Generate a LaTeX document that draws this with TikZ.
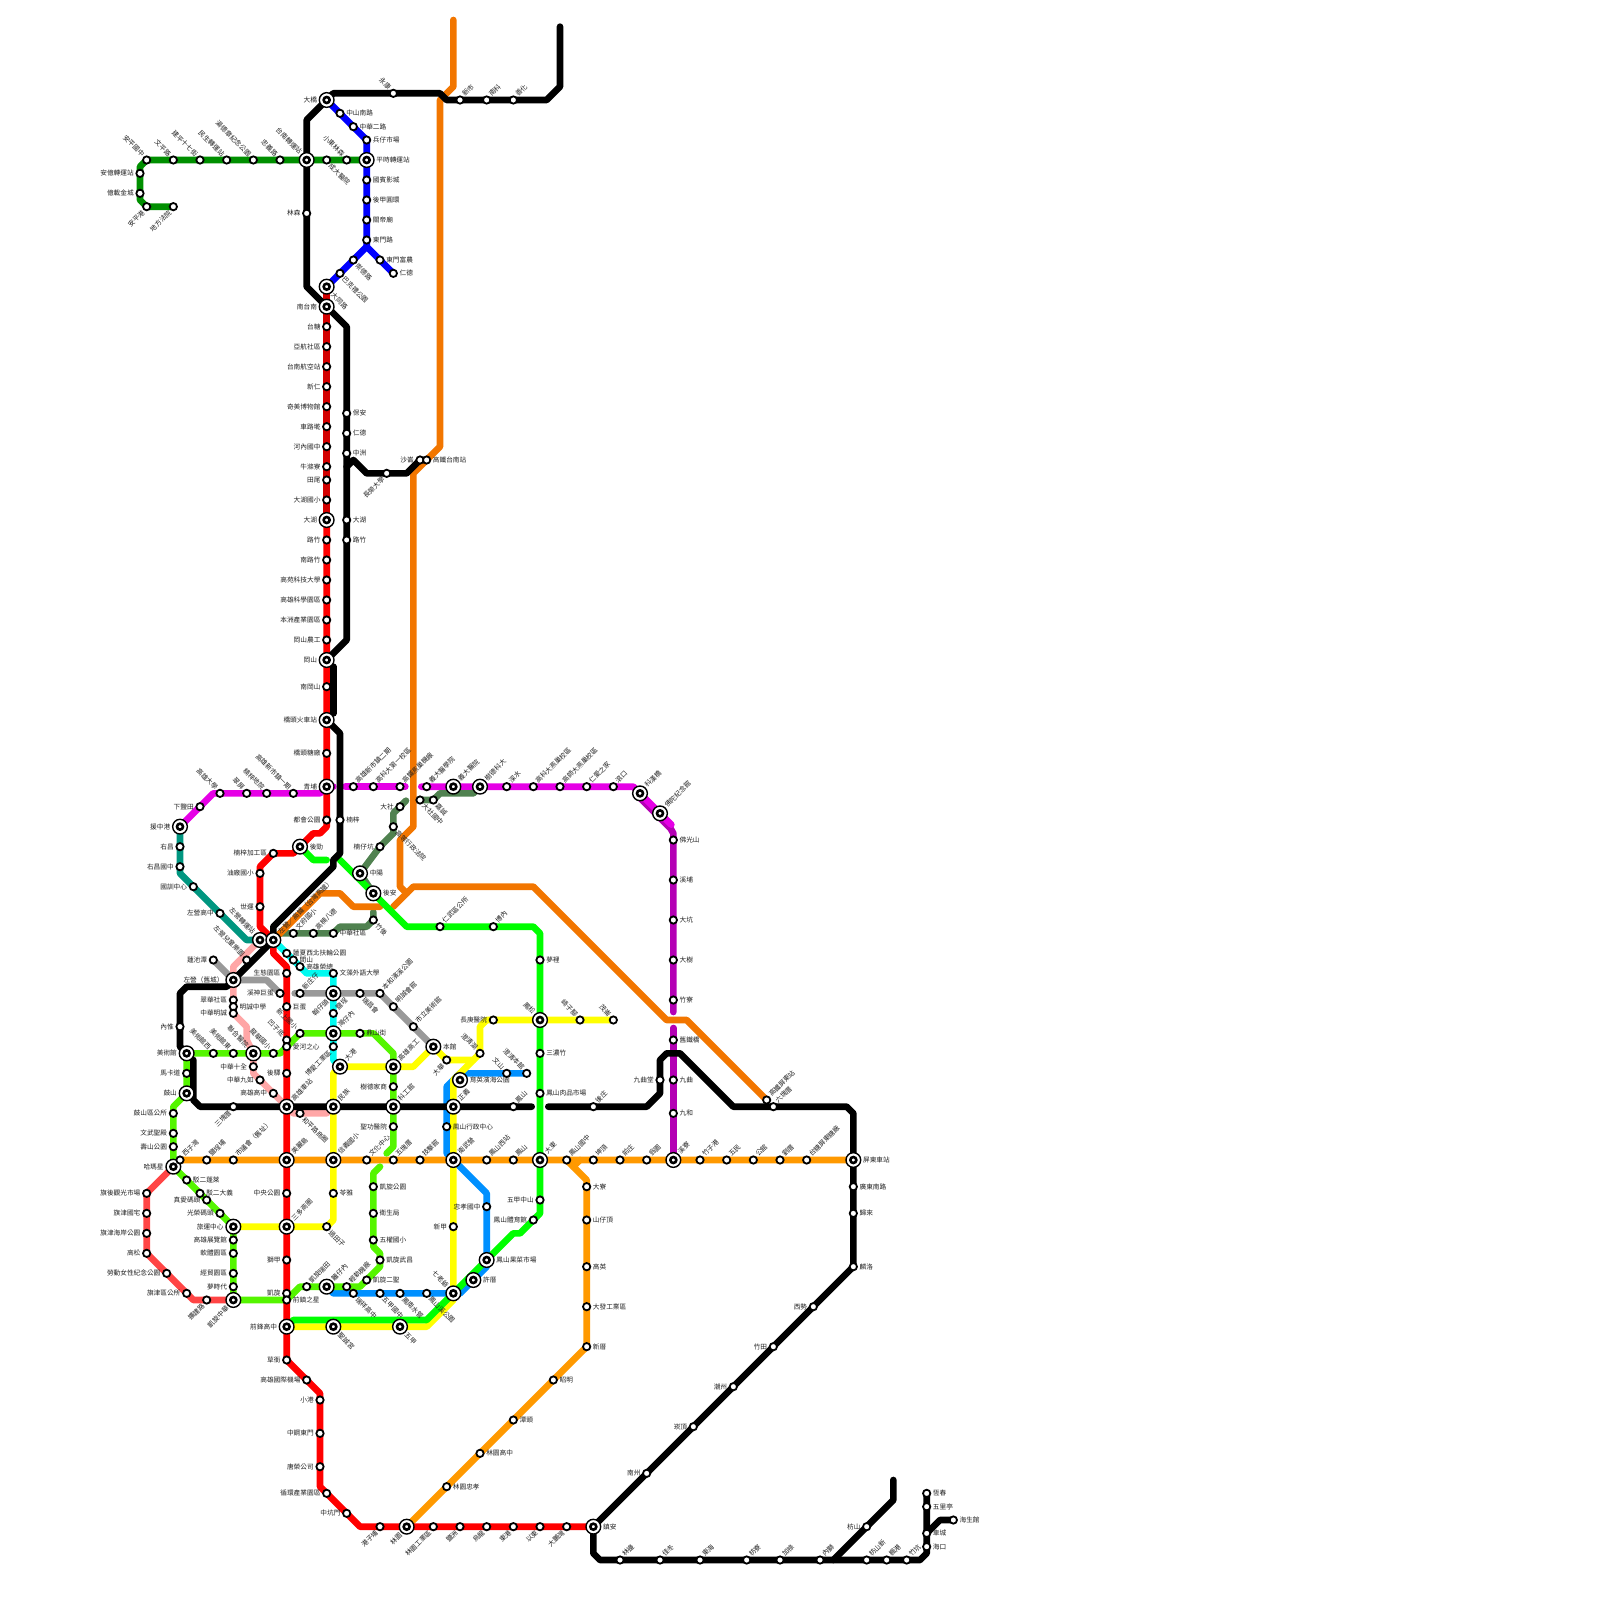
\documentclass[tikz,border=0pt]{standalone}
\usepackage{fontspec}
\setmainfont{Noto Sans CJK TC}
\usetikzlibrary{backgrounds}
\definecolor{cgreen}{HTML}{008F00}
\definecolor{cblue}{HTML}{0000FF}
\definecolor{cdred}{HTML}{D40000}
\definecolor{cred}{HTML}{FF0000}
\definecolor{clred}{HTML}{FF4545}
\definecolor{cpink}{HTML}{FFA6A6}
\definecolor{cmag}{HTML}{E600E6}
\definecolor{cpur}{HTML}{B400B4}
\definecolor{cteal}{HTML}{009680}
\definecolor{cgray}{HTML}{999999}
\definecolor{ccyan}{HTML}{00FAF0}
\definecolor{clime}{HTML}{55F500}
\definecolor{cvivid}{HTML}{00FF00}
\definecolor{cyel}{HTML}{FFFF00}
\definecolor{cazure}{HTML}{0090FF}
\definecolor{cdkgr}{HTML}{508250}
\definecolor{corg}{HTML}{F27600}
\definecolor{camb}{HTML}{FF9900}
\definecolor{clab}{HTML}{202020}
\tikzset{
    lbl/.style={inner sep=0pt,text=clab,font=\fontsize{6.67}{8}\selectfont},
    label distance=1.5pt,
    lR/.style={label={[lbl,anchor=west]0:#1}},
    lL/.style={label={[lbl,anchor=east]180:#1}},
    lUR/.style={label={[lbl,rotate=45,anchor=west]45:#1}},
    lUL/.style={label={[lbl,rotate=-45,anchor=east]135:#1}},
    lDR/.style={label={[lbl,rotate=-45,anchor=west]-45:#1}},
    lDL/.style={label={[lbl,rotate=45,anchor=east]225:#1}},
    stn/.style={circle,draw=black,fill=white,line width=1.8pt,minimum size=7.3pt,inner sep=0pt},
    stnx/.style={circle,draw=black,fill=white,line width=1.4pt,minimum size=14.7pt,inner sep=0pt,
        path picture={\draw[line width=2.6pt] (path picture bounding box.center) circle (3pt);}},
    metro/.style={line width=6.67pt,line cap=round,line join=round},
}
\begin{document}
\begin{tikzpicture}[x=6.6667pt,y=-6.6667pt]
\useasboundingbox (0,0) rectangle (240,240);

% transfer stations
\foreach \nm/\px/\py/\tx/\lb in {
    tnzz/46/24/台南轉運站/lUL, pszz/55/24/平時轉運站/lR, daqiao/49/15/大橋/lL, datong/49/43/大同路/lDR,
    ntn/49/46/南台南/lL, dahu/49/78/大湖/lL, gangshan/49/99/岡山/lL, qtcz/49/108/橋頭火車站/lL,
    qingpu/49/118/青埔/lL, houjin/45/127/後勁/lR, yzg/27/124/援中港/lL, zyzy/39/141/左營轉運站/lUL,
    zygt/41/141/左營／高鐵（台灣高鐵）/lUR, zyjc/35/147/左營（舊城）/lL, zhongyang/54/131/中陽/lR,
    houan/56/134/後安/lR, ydyy/68/118/義大醫院/lUR, sdkd/72/118/樹德科大/lUR, kehan/96/119/科漢橋/lUR,
    focuo/99/122/佛陀紀念館/lUR, meishu/28/158/美術館/lL, gushan/28/164/鼓山/lL, lianhe/38/158/聯合醫院/lUL,
    haor/50/149/翰仔頭/lDL, wanzn/50/155/灣仔內/lUR, dagang/51/160/大港/lUR, gxgg/59/160/高雄高工/lUR,
    benguan/65/157/本館/lR, fengsong/81/153/鳳松/lUL, yuyi/69/162/育英濱海公園/lR, gxcz/43/166/高雄車站/lUR,
    minzu/50/166/民族/lUR, kegong/59/166/科工館/lUR, zhengyi/68/166/正義/lUR, mld/43/174/美麗島/lUR,
    xyxx/50/174/信義國小/lUR, wwy/68/174/衛武營/lUR, dadong/81/174/大東/lUR, xiliao/101/174/溪寮/lUR,
    ptcz/128/174/屏東車站/lR, hms/26/175/哈瑪星/lL, lyzx/35/184/旅運中心/lL, sdsq/43/184/三多商圈/lUR,
    kxzh/35/195/凱旋中華/lDL, lzn/49/193/籬仔內/lUR, qfgz/43/199/前鋒高中/lL, scg/50/199/聖誠宮/lDR,
    wujia/60/199/五甲/lDR, qlaoye/68/194/七老爺/lUL, xucuo/71/192/許厝/lR, fsgc/73/189/鳳山果菜市場/lR,
    linyuan/61/229/林園/lDL, zhenan/89/229/鎮安/lR}
    {\node[stnx,\lb={\tx}] (\nm) at (\px,\py) {};}

% plain stations
\foreach \nm/\px/\py/\tx/\lb in {
    g1/22/24/安平國中/lUL, g2/26/24/文平路/lUL, g3/30/24/建平十七街/lUL, g4/34/24/民生轉運站/lUL,
    g5/38/24/湯德章紀念公園/lUL, g6/42/24/忠義路/lUL, g7/49/24/成大醫院/lDR, g8/52/24/小東林森/lUL,
    g9/21/26/安億轉運站/lL, g10/21/29/億載金城/lL, g11/22/31/安平港/lDL, g12/26/31/地方法院/lDL,
    b1/51/17/中山南路/lR, b2/53/19/中華二路/lR, b3/55/21/兵仔市場/lR, b4/55/27/國賓影城/lR,
    b5/55/30/後甲圓環/lR, b6/55/33/關帝廟/lR, b7/55/36/東門路/lR, b8/57/39/東門富農/lR, b9/59/41/仁德/lR,
    b10/53/39/崇德路/lDR, b11/51/41/巴克禮公園/lDR,
    k1/46/32/林森/lL, k2/59/14/永康/lUL, k3/69/15/新市/lUR, k4/73/15/南科/lUR, k5/77/15/善化/lUR,
    k6/52/62/保安/lR, k7/52/65/仁德/lR, k8/52/68/中洲/lR, k9/52/78/大湖/lR, k10/52/81/路竹/lR,
    k11/58/71/長榮大學/lDL, k12/63/69/沙崙/lL, k13/64/69/高鐵台南站/lR, k14/51/123/楠梓/lR,
    k15/27/154/內惟/lL, k16/35/166/三塊厝/lDL, k17/77/166/鳳山/lUR, k18/89/166/後庄/lUR, k19/99/162/九曲堂/lL,
    k20/116/166/六塊厝/lUR, k21/128/178/廣東南路/lR, k22/128/182/歸來/lR, k23/128/190/麟洛/lR,
    k24/122/196/西勢/lL, k25/116/202/竹田/lL, k26/110/208/潮州/lL, k27/104/214/崁頂/lL, k28/97/221/南州/lL,
    k29/93/234/林邊/lUR, k30/99/234/佳冬/lUR, k31/105/234/東海/lUR, k32/112/234/枋寮/lUR, k33/117/234/加祿/lUR,
    k34/123/234/內獅/lUR, k35/130/234/枋山新/lUR, k36/133/234/楓港/lUR, k37/136/234/竹坑/lUR,
    k38/139/232/海口/lR, k39/139/230/車城/lR, k40/139/226/五里亭/lR, k41/139/224/恆春/lR,
    k42/143/228/海生館/lR, k43/130/229/枋山/lL}
    {\node[stn,\lb={\tx}] (\nm) at (\px,\py) {};}
\foreach \nm/\px/\py/\tx/\lb in {
    r1/49/49/台糖/lL, r2/49/52/亞航社區/lL, r3/49/55/台南航空站/lL, r4/49/58/新仁/lL, r5/49/61/奇美博物館/lL,
    r6/49/64/車路墘/lL, r7/49/67/河內國中/lL, r8/49/70/牛滌寮/lL, r9/49/72/田尾/lL, r10/49/75/大湖國小/lL,
    r11/49/81/路竹/lL, r12/49/84/南路竹/lL, r13/49/87/高苑科技大學/lL, r14/49/90/高雄科學園區/lL,
    r15/49/93/本洲產業園區/lL, r16/49/96/岡山農工/lL, r17/49/103/南岡山/lL, r18/49/113/橋頭糖廠/lL,
    r19/49/123/都會公園/lL, r20/41/128/楠梓加工區/lL, r21/39/131/油廠國小/lL, r22/39/136/世運/lL,
    r23/43/146/生態園區/lL, r24/43/151/巨蛋/lR, r25/43/156/凹子底/lUL, r26/43/157/愛河之心/lR,
    r27/43/161/後驛/lL, r28/43/179/中央公園/lL, r29/43/189/獅甲/lL, r30/43/194/凱旋/lL, r31/43/195/前鎮之星/lR,
    r32/43/204/草衙/lL, r33/46/207/高雄國際機場/lL, r34/48/210/小港/lL, r35/48/215/中鋼東門/lL,
    r36/48/220/唐榮公司/lL, r37/49/224/循環產業園區/lL, r38/52/227/中坑門/lL, r39/57/229/港子埔/lDL,
    r40/65/229/林園工業區/lDL, r41/69/229/鹽洲/lDL, r42/73/229/烏龍/lDL, r43/77/229/東港/lDL,
    r44/81/229/以東/lDL, r45/85/229/大鵬灣/lDL,
    m1/30/121/下鹽田/lL, m2/33/119/高雄大學/lUL, m3/37/119/翠屏/lUL, m4/40/119/楠梓地院/lUL,
    m5/44/119/高雄新市鎮一期/lUL, m6/53/118/高雄新市鎮二期/lUR, m7/56/118/高科大第一校區/lUR,
    m8/60/118/高鐵燕巢機廠/lUR, m9/64/118/義大醫學院/lUR, m10/76/118/深水/lUR, m11/80/118/高科大燕巢校區/lUR,
    m12/84/118/高師大燕巢校區/lUR, m13/88/118/仁愛之家/lUR, m14/92/118/滾口/lUR,
    p1/101/126/佛光山/lR, p2/101/132/溪埔/lR, p3/101/138/大坑/lR, p4/101/144/大樹/lR, p5/101/150/竹寮/lR,
    p6/101/156/舊鐵橋/lR, p7/101/162/九曲/lR, p8/101/167/九和/lR,
    t1/27/127/右昌/lL, t2/27/130/右昌國中/lL, t3/29/133/國訓中心/lL, t4/33/137/左營高中/lL,
    pk0/37/144/左營兒童樂園/lUL, pk1/35/150/翠華社區/lL, pk2/35/151/明誠中學/lR, pk3/35/152/中華明誠/lL,
    pk4/38/160/中華十全/lL, pk5/39/162/中華九如/lL, pk6/41/164/高雄高中/lL, pk7/45/167/和平路商圈/lDR,
    gy1/32/144/蓮池潭/lL, gy2/42/149/溪神巨蛋/lL, gy3/45/149/新庄仔/lUR, gy4/54/149/瑞昌會/lDR,
    gy5/57/149/本和濱溪公園/lUR, gy6/59/151/明誠會館/lUR, gy7/62/154/市立美術館/lUR,
    c1/43/143/蓮夏西北扶輪公園/lR, c2/44/144/間山/lR, c3/45/145/高雄榮總/lR, c4/50/146/文藻外語大學/lR,
    c5/50/152/鹽埕/lUR, c6/50/157/博愛工業區/lDL}
    {\node[stn,\lb={\tx}] (\nm) at (\px,\py) {};}
\foreach \nm/\px/\py/\tx/\lb in {
    l1/26/172/壽山公園/lL, l2/26/170/文武聖殿/lL, l3/26/167/鼓山區公所/lL, l4/28/161/馬卡道/lL,
    l5/32/158/美術館西/lUL, l6/35/158/美術館東/lUL, l7/41/158/龍華國小/lUL, l8/45/155/新上國小/lUL,
    l9/54/155/鼎山街/lR, l10/59/163/樹德家商/lL, l11/59/169/聖功醫院/lL, l12/56/178/凱旋公園/lR,
    l13/56/182/衛生局/lR, l14/56/186/五權國小/lR, l15/57/189/凱旋武昌/lR, l16/55/192/凱旋二聖/lR,
    l17/52/193/輕軌機廠/lUR, l18/46/193/凱旋瑞田/lUR, l19/35/193/夢時代/lL, l20/35/191/經貿園區/lL,
    l21/35/188/軟體園區/lL, l22/35/186/高雄展覽館/lL, l23/33/182/光榮碼頭/lL, l24/31/180/真愛碼頭/lL,
    l25/30/179/駁二大義/lR, l26/28/177/駁二蓬萊/lR,
    q1/22/179/旗後觀光市場/lL, q2/22/182/旗津國宅/lL, q3/22/185/旗津海岸公園/lL, q4/22/188/高松/lL,
    q5/25/191/勞動女性紀念公園/lL, q6/28/194/旗津區公所/lL, q7/31/195/擴建路/lDL,
    o1/27/174/西子灣/lUR, o2/31/174/鹽埕埔/lUR, o3/35/174/市議會（舊址）/lUR, o4/55/174/文化中心/lUR,
    o5/59/174/五塊厝/lUR, o6/63/174/技擊館/lUR, o7/73/174/鳳山西站/lUR, o8/77/174/鳳山/lUR, o9/85/174/鳳山國中/lUR,
    o10/89/174/坤頂/lUR, o11/93/174/前庄/lUR, o12/97/174/翁園/lUR, o13/105/174/竹子港/lUR, o14/109/174/五民/lUR,
    o15/113/174/公館/lUR, o16/117/174/劉厝/lUR, o17/121/174/台糖屏東糖廠/lUR, o18/88/178/大寮/lR,
    o19/88/183/山仔頂/lR, o20/88/190/高英/lR, o21/88/196/大發工業區/lR, o22/88/202/新厝/lR, o23/83/207/昭明/lR,
    o24/77/213/潭頭/lR, o25/72/218/林園高中/lR, o26/67/223/林園忠孝/lR,
    f1/115/165/高鐵屏東站/lUR,
    d1/44/140/文府國小/lUR, d2/47/140/高楠八德/lUR, d3/50/140/中華社區/lR, d4/56/138/竹後/lDR,
    d5/57/127/楠仔坑/lL, d6/59/124/高等行政法院/lDR, d7/60/121/大社/lL, d8/63/120/大社國中/lDR, d9/65/120/嘉誠/lDR,
    v1/66/139/仁武區公所/lUR, v2/74/139/博內/lUR, v3/81/144/夢裡/lR, v4/81/158/三濃竹/lR, v5/81/164/鳳山肉品市場/lR,
    v6/81/180/五甲中山/lL, v7/80/183/鳳山體育館/lL,
    y1/74/153/長庚醫院/lL, y2/87/153/崎子腳/lUL, y3/92/153/茂崙/lUL, y4/72/158/澄清湖/lUL, y5/67/159/大華/lDL,
    y6/50/179/苓雅/lR, y7/49/184/過田子/lDR, y8/68/184/新甲/lL,
    a1/79/161/澄清本館/lUL, a2/76/161/文山/lUL, a3/67/169/鳳山行政中心/lR, a4/73/181/忠孝國中/lL,
    a5/64/194/鳳山溪公園/lDR, a6/60/194/鳳南水管/lDR, a7/57/194/五甲國中/lDR, a8/53/194/瑞祥高中/lDR}
    {\node[stn,\lb={\tx}] (\nm) at (\px,\py) {};}

% bends and free ends
\foreach \nm/\px/\py in {
    gb1/21/25, gb2/21/30, bb1/55/37,
    kb1/46/18, kb2/46/43, kb3/52/49, kb4/50/14, kb5/66/14, kb6/67/15, kb7/82/15, kb8/84/13, kb9/84/4,
    kb10/52/96, kb11/52/70, kb12/53/69, kb13/55/71, kb14/61/71, kb15/50/100, kb16/50/107, kb17/51/110,
    kb18/51/128, kb19/50/129, kb20/50/130, kb21/41/139, kb22/41/140, kb23/34/148, kb24/28/148, kb25/27/149,
    kb26/27/157, kb27/29/159, kb28/29/165, kb29/30/166, kb30/79.75/166, kb31/82.25/166, kb32/97/166,
    kb33/99/164, kb34/99/159, kb35/100/158, kb36/102/158, kb37/110/166, kb38/127/166, kb39/128/167,
    kb40/89/233, kb41/90/234, kb42/138/234, kb43/139/233, kb44/141/228, kb45/125/234, kb46/134/225, kb47/134/222,
    rb1/49/124, rb2/48/125, rb3/47/125, rb4/44/128, rb5/39/130, rb6/39/139, rb7/41/143, rb8/43/145,
    rb9/48/209, rb10/48/223, rb11/54/229,
    mb1/32/119, mb2/48/119, mb3/50/118, mb4/51.8/118, mb5/60.8/118, mb6/63.2/118, mb7/95/118, mb8/100.7/123.7,
    pb1/96/119.7, pb2/100.6/124.3, pb3/101/125, pb4/101/151.8, pb5/101/154.2,
    tb1/27/131, tb2/37/141, pkb1/37/143, pkb2/35/145, pkb3/37/154, pkb4/37/156, pkb5/38/161, pkb6/44/167, pkb7/49/167,
    gyb1/40/147, gyb2/44.2/149, cb1/46/146, cb2/50/159,
    lb1/26/166, lb2/42/158, lb3/56/155, lb4/59/158, lb5/59/172, lb6/58/173, lb7/57/175, lb8/56/176, lb9/56/187,
    lb10/57/188, lb11/57/190, lb12/54/193, lb13/45/193, qb1/29/195,
    ob1/88/177, ob2/87/174, ob3/86/175,
    fb1/68/3, fb2/68/13, fb3/66/15, fb4/66/67, fb5/62/71, fb6/62/124, fb7/60/126, fb8/60/133, fb9/61/134, fb10/62/133,
    fb11/80/133, fb12/100/153, fb13/103/153, fb14/48/134, fb15/51/134, fb16/53/136, fb17/57/136, fb18/59/136,
    db1/42/140, db2/51/139, db3/55/139, db4/56/136.8, db5/59/125, db6/59/122, db7/60.9/120.1, db8/66/119, db9/71/119,
    vb1/47/129, vb2/49/129, vb3/51/129, vb4/61/139, vb5/80/139, vb6/81/140, vb7/81/182, vb8/78/185, vb9/77/185,
    vb10/64/198, vb11/44/198,
    yb1/73/153, yb2/72/154, yb3/71/159, yb4/62/160, yb5/50/161, yb6/50/183, yb7/68/162, yb8/68/195, yb9/64/199,
    ab1/69/161, ab2/67/163, ab3/67/173, ab4/73/179, ab5/73/190, ab6/69/194, ab7/50/194}
    {\coordinate (\nm) at (\px,\py);}

% lines, lowest first
\begin{scope}[on background layer]
\draw[metro,cgray] (gy1.center) foreach \stp in {zyjc,gyb1,gy2} {-- (\stp.center)};
\draw[metro,cgray] (gyb2.center) foreach \stp in {gy3,haor,gy4,gy5,gy6,gy7,benguan} {-- (\stp.center)};
\draw[metro,cpink] (zyzy.center) foreach \stp in {pkb1,pkb2,zyjc,pk1,pk2,pk3,pkb3,pkb4,lianhe,pk4,pkb5,pk5,pk6,gxcz,pkb6,pk7,pkb7,minzu} {-- (\stp.center)};
\draw[metro,cteal] (yzg.center) foreach \stp in {t1,t2,tb1,t3,t4,tb2,zyzy} {-- (\stp.center)};
\draw[metro,ccyan] (zygt.center) foreach \stp in {c1,c2,c3,cb1,c4,haor,c5,wanzn,c6,cb2,dagang} {-- (\stp.center)};
\draw[metro,cpur] (kehan.center) -- (pb1.center) foreach \stp in {pb2,pb3,p1,p2,p3,p4,p5,pb4} {-- (\stp.center)};
\draw[metro,cpur] (pb5.center) foreach \stp in {p6,p7,p8,xiliao} {-- (\stp.center)};
\draw[metro,cmag] (yzg.center) foreach \stp in {m1,mb1,m2,m3,m4,m5,mb2,qingpu,mb3} {-- (\stp.center)};
\draw[metro,cmag] (mb4.center) foreach \stp in {m6,m7,m8,mb5} {-- (\stp.center)};
\draw[metro,cmag] (mb6.center) foreach \stp in {m9,ydyy,sdkd,m10,m11,m12,m13,m14,mb7,kehan,focuo,mb8} {-- (\stp.center)};
\draw[metro,cdkgr] (zygt.center) foreach \stp in {db1,d1,d2,d3,db2,db3,d4,db4} {-- (\stp.center)};
\draw[metro,cdkgr] (houan.center) foreach \stp in {zhongyang,d5,db5,d6,db6,d7,db7} {-- (\stp.center)};
\draw[metro,cdkgr] (d8.center) foreach \stp in {d9,db8,db9,sdkd} {-- (\stp.center)};
\draw[metro,cgreen] (g12.center) foreach \stp in {g11,gb2,g10,g9,gb1,g1,g2,g3,g4,g5,g6,tnzz,g7,g8,pszz} {-- (\stp.center)};
\draw[metro,cblue] (daqiao.center) foreach \stp in {b1,b2,b3,pszz,b4,b5,b6,b7,bb1,b8,b9} {-- (\stp.center)};
\draw[metro,cblue] (bb1.center) foreach \stp in {b10,b11,datong} {-- (\stp.center)};
\draw[metro,corg] (fb1.center) foreach \stp in {fb2,fb3,fb4,fb5,fb6,fb7,fb8,fb9,fb10,fb11,fb12,fb13,f1} {-- (\stp.center)};
\draw[metro,corg] (zygt.center) foreach \stp in {fb14,fb15,fb16,fb17} {-- (\stp.center)};
\draw[metro,corg] (fb18.center) -- (fb9.center);
\draw[metro,camb] (hms.center) foreach \stp in {o1,o2,o3,mld,xyxx,o4,o5,o6,wwy,o7,o8,dadong,o9,o10,o11,o12,xiliao,o13,o14,o15,o16,o17,ptcz} {-- (\stp.center)};
\draw[metro,camb] (o9.center) foreach \stp in {ob1,o18,o19,o20,o21,o22,o23,o24,o25,o26,linyuan} {-- (\stp.center)};
\draw[metro,camb] (ob2.center) -- (ob3.center);
\draw[metro,cazure] (a1.center) foreach \stp in {a2,ab1,ab2,a3,ab3,wwy,ab4,a4,fsgc,ab5,xucuo,ab6,qlaoye,a5,a6,a7,a8,ab7,lzn} {-- (\stp.center)};
\draw[metro,cyel] (y3.center) foreach \stp in {y2,fengsong,y1,yb1,yb2,y4,yb3,y5,benguan,yb4,gxgg,dagang,yb5,minzu,xyxx,y6,yb6,y7,sdsq,lyzx} {-- (\stp.center)};
\draw[metro,cyel] (yb3.center) foreach \stp in {yb7,zhengyi,wwy,y8,qlaoye,yb8,yb9,wujia,scg,qfgz} {-- (\stp.center)};
\draw[metro,clred] (hms.center) foreach \stp in {q1,q2,q3,q4,q5,q6,qb1,q7,kxzh} {-- (\stp.center)};
\draw[metro,clime] (hms.center) foreach \stp in {l1,l2,l3,lb1,gushan,l4,meishu,l5,l6,lianhe,l7,lb2,l8,wanzn,l9,lb3,lb4,gxgg,l10,kegong,l11,lb5,lb6} {-- (\stp.center)};
\draw[metro,clime] (lb7.center) foreach \stp in {lb8,l12,l13,l14,lb9,lb10,l15,lb11,l16,lb12,l17,lzn,l18,lb13,r31,kxzh,l19,l20,l21,l22,lyzx,l23,l24,l25,l26,hms} {-- (\stp.center)};
\draw[metro,cvivid] (houjin.center) foreach \stp in {vb1,vb2} {-- (\stp.center)};
\draw[metro,cvivid] (vb3.center) foreach \stp in {houan,vb4,v1,v2,vb5,vb6,v3,fengsong,v4,v5,dadong,v6,vb7,v7,vb8,vb9,fsgc,qlaoye,vb10,vb11,qfgz} {-- (\stp.center)};
\draw[metro,cdred] (datong.center) foreach \stp in {ntn,r1,r2,r3,r4,r5,r6,r7,r8,r9,r10,dahu} {-- (\stp.center)};
\draw[metro,cred] (dahu.center) foreach \stp in {r11,r12,r13,r14,r15,r16,gangshan,r17,qtcz,r18,qingpu,r19,rb1,rb2,rb3,houjin,rb4,r20,rb5,r21,r22,rb6,zygt,rb7,rb8,r23,r24,r25,r26,r27,gxcz,mld,r28,sdsq,r29,r30,r31,qfgz,r32,r33,rb9,r34,r35,r36,rb10,r37,r38,rb11,r39,linyuan,r40,r41,r42,r43,r44,r45,zhenan} {-- (\stp.center)};
\draw[metro,black] (tnzz.center) foreach \stp in {kb1,daqiao,kb4,k2,kb5,kb6,k3,k4,k5,kb7,kb8,kb9} {-- (\stp.center)};
\draw[metro,black] (tnzz.center) foreach \stp in {k1,kb2,ntn,kb3,k6,k7,k8,k9,k10,kb10,gangshan} {-- (\stp.center)};
\draw[metro,black] (kb11.center) foreach \stp in {kb12,kb13,k11,kb14,k12,k13} {-- (\stp.center)};
\draw[metro,black] (kb15.center) -- (kb16.center);
\draw[metro,black] (qtcz.center) foreach \stp in {kb17,k14,kb18,kb19,kb20,kb21,kb22,zygt,zyjc,kb23,kb24,kb25,k15,kb26,meishu} {-- (\stp.center)};
\draw[metro,black] (kb27.center) foreach \stp in {kb28,kb29,k16,gxcz,minzu,kegong,zhengyi,k17,kb30} {-- (\stp.center)};
\draw[metro,black] (kb31.center) foreach \stp in {k18,kb32,kb33,k19,kb34,kb35,kb36,kb37,k20,kb38,kb39,ptcz,k21,k22,k23,k24,k25,k26,k27,k28,zhenan,kb40,kb41,k29,k30,k31,k32,k33,k34,k35,k36,k37,kb42,kb43,k38,k39,k40,k41} {-- (\stp.center)};
\draw[metro,black] (k39.center) foreach \stp in {kb44,k42} {-- (\stp.center)};
\draw[metro,black] (kb45.center) foreach \stp in {k43,kb46,kb47} {-- (\stp.center)};
\end{scope}
\end{tikzpicture}
\end{document}
